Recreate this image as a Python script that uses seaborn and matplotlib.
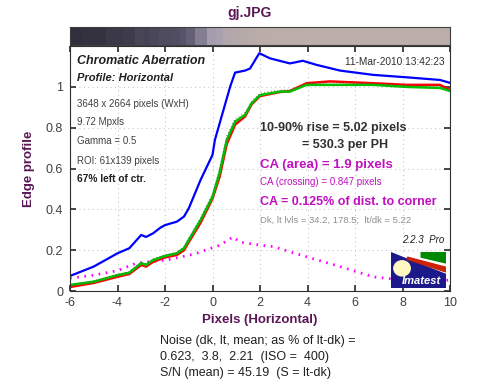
import numpy as np
import pandas as pd
import seaborn as sns
import matplotlib.pyplot as plt
import matplotlib.colors as mcolors
from matplotlib.patches import Polygon, Ellipse

# edge profiles
x_blue = [-6, -5, -4, -3.5, -3, -2.8, -2.5, -2.2, -2, -1.5, -1.2, -1, -0.5, 0, 0.1,
          0.74, 0.95, 1.37, 1.58, 1.97, 2.42, 3.26, 3.8, 4.38, 5.37, 6.76, 8.18, 9.58, 10]
blue = [0.074, 0.12, 0.185, 0.21, 0.275, 0.265, 0.283, 0.31, 0.323, 0.34, 0.365, 0.405,
        0.545, 0.667, 0.74, 1.0, 1.07, 1.08, 1.09, 1.165, 1.14, 1.115, 1.128, 1.108,
        1.08, 1.059, 1.047, 1.034, 1.02]

x_rg = [-6, -5, -4, -3.5, -3, -2.8, -2.5, -2, -1.5, -1.2, -1, -0.5, 0, 0.3, 0.6, 0.95,
        1.37, 1.65, 2, 2.84, 3.26, 3.96, 4.95, 6.76, 8.18, 9.58, 10]
green = [0.03, 0.046, 0.078, 0.09, 0.137, 0.128, 0.152, 0.172, 0.185, 0.21, 0.25, 0.348,
         0.462, 0.58, 0.74, 0.83, 0.863, 0.92, 0.96, 0.977, 0.977, 1.01, 1.01, 1.01,
         1.0, 0.995, 0.98]
red = [0.02, 0.04, 0.07, 0.084, 0.128, 0.12, 0.143, 0.165, 0.177, 0.2, 0.24, 0.335,
       0.453, 0.56, 0.72, 0.815, 0.855, 0.915, 0.955, 0.975, 0.98, 1.018, 1.027, 1.018,
       1.01, 1.01, 0.985]
mean_lum = [0.03, 0.05, 0.082, 0.095, 0.142, 0.134, 0.158, 0.178, 0.19, 0.218, 0.26, 0.36,
            0.475, 0.6, 0.76, 0.845, 0.875, 0.93, 0.97, 0.985, 0.985, 1.016, 1.02, 1.016,
            1.006, 1.003, 0.985]

x_mag = [-6, -5, -4, -3.2, -1.94, -0.82, 0.32, 0.86, 1.16, 2.0, 2.55, 3.96, 5.37, 6.76,
         7.5, 8.18, 9.7, 10]
magenta = [0.063, 0.078, 0.1, 0.137, 0.152, 0.18, 0.225, 0.265, 0.24, 0.225, 0.218,
           0.168, 0.12, 0.07, 0.06, 0.046, 0.05, 0.055]

x_ticks = [-6, -4, -2, 0, 2, 4, 6, 8, 10]
y_ticks = [0, 0.2, 0.4, 0.6, 0.8, 1]
y_ticklabels = ['0', '0.2', '0.4', '0.6', '0.8', '1']

sns.set_theme(style='white')
plt.rcParams['font.family'] = ['Liberation Sans', 'DejaVu Sans']
plt.rcParams['axes.unicode_minus'] = False

purple = '#5a1656'
mag_txt = '#c010c0'

fig = plt.figure(figsize=(5, 3.84), dpi=100)
ax = fig.add_axes([0.14, 0.242, 0.76, 0.638])
strip = fig.add_axes([0.14, 0.883, 0.76, 0.047])

# grey-level strip of the edge
cmap = mcolors.LinearSegmentedColormap.from_list(
    'edge', [(0, '#2c2a36'), (0.2, '#555166'), (0.45, '#a49cae'), (1.0, '#bcaea8')])
edges = np.concatenate([[x_rg[0]], (np.array(x_rg[:-1]) + np.array(x_rg[1:])) / 2, [x_rg[-1]]])
strip.pcolormesh(edges, [0, 1], np.array([green]), cmap=cmap, vmin=0, vmax=1)
strip.set_xlim(-6, 10)
strip.set_xticks([])
strip.set_yticks([])
for s in strip.spines.values():
    s.set_color('#404040')
    s.set_linewidth(0.8)

# profiles
sns.lineplot(x=x_mag, y=magenta, ax=ax, color='#ff00ff', linewidth=2,
             linestyle=(0, (0.6, 2.0)), estimator=None, sort=False)
sns.lineplot(x=x_blue, y=blue, ax=ax, color='#0000ff', linewidth=1.6,
             estimator=None, sort=False)
sns.lineplot(x=x_rg, y=red, ax=ax, color='#ff0000', linewidth=1.8,
             estimator=None, sort=False)
sns.lineplot(x=x_rg, y=green, ax=ax, color='#00c000', linewidth=1.8,
             estimator=None, sort=False)
sns.lineplot(x=x_rg, y=mean_lum, ax=ax, color='#505050', linewidth=0.6,
             linestyle=(0, (1, 3)), estimator=None, sort=False)

ax.set_xlim(-6, 10)
ax.set_ylim(0, 1.2)
ax.set_xticks(x_ticks)
ax.set_yticks(y_ticks)
ax.set_yticklabels(y_ticklabels)
ax.grid(True, color='#c8c8c8', linestyle=(0, (1, 3)), linewidth=0.8)
ax.tick_params(direction='in', length=4, top=True, right=True, bottom=True, left=True,
               labelsize=9, colors='#303030', labelcolor='#404040')
ax.tick_params(axis='x', pad=4)
ax.tick_params(axis='y', pad=5)
for s in ax.spines.values():
    s.set_color('#303030')
    s.set_linewidth(0.8)
ax.set_xlabel('Pixels (Horizontal)', fontsize=9.5, fontweight='bold', color=purple, labelpad=4)
ax.set_ylabel('Edge profile', fontsize=9.5, fontweight='bold', color=purple, labelpad=8)
fig.text(0.5, 0.965, 'gj.JPG', ha='center', va='center', fontsize=10,
         fontweight='bold', color=purple)

# annotations inside the axes
tr = ax.transAxes
ax.text(0.018, 0.94, 'Chromatic Aberration', transform=tr, fontsize=9,
        fontweight='bold', style='italic', color='#202020', va='center')
ax.text(0.018, 0.87, 'Profile: Horizontal', transform=tr, fontsize=8,
        fontweight='bold', style='italic', color='#202020', va='center')
for yy, s in [(0.765, '3648 x 2664 pixels (WxH)'), (0.69, '9.72 Mpxls'),
              (0.612, 'Gamma = 0.5'), (0.53, 'ROI: 61x139 pixels')]:
    ax.text(0.018, yy, s, transform=tr, fontsize=7, color='#404040', va='center')
ax.text(0.018, 0.457, '67% left of ctr.', transform=tr, fontsize=7.3,
        fontweight='bold', color='#202020', va='center')
ax.text(0.985, 0.935, '11-Mar-2010 13:42:23', transform=tr, fontsize=7.3,
        color='#303030', va='center', ha='right')

ax.text(0.5, 0.664, '10-90% rise = 5.02 pixels', transform=tr, fontsize=9,
        fontweight='bold', color='#303030', va='center')
ax.text(0.61, 0.595, '= 530.3 per PH', transform=tr, fontsize=9,
        fontweight='bold', color='#303030', va='center')
ax.text(0.5, 0.515, 'CA (area) = 1.9 pixels', transform=tr, fontsize=9.5,
        fontweight='bold', color=mag_txt, va='center')
ax.text(0.5, 0.447, 'CA (crossing) = 0.847 pixels', transform=tr, fontsize=7,
        color=mag_txt, va='center')
ax.text(0.5, 0.365, 'CA = 0.125% of dist. to corner', transform=tr, fontsize=9,
        fontweight='bold', color=mag_txt, va='center')
ax.text(0.5, 0.288, 'Dk, lt lvls = 34.2, 178.5;  lt/dk = 5.22', transform=tr, fontsize=6.8,
        color='#909090', va='center')
ax.text(0.985, 0.208, '2.2.3  Pro', transform=tr, fontsize=7, style='italic',
        color='#202020', va='center', ha='right')

# Imatest logo
logo = ax.inset_axes([0.845, 0.012, 0.144, 0.147])
logo.set_xlim(0, 1)
logo.set_ylim(0, 1)
logo.set_facecolor('#1c1a8a')
logo.add_patch(Polygon([(0.0, 1), (1, 1), (1, 0.38), (0.0, 0.98)], color='white'))
logo.add_patch(Polygon([(0.0, 0.98), (1, 0.38), (1, 0.2), (0.0, 0.96)], color='#1c1a8a'))
logo.add_patch(Polygon([(0.55, 1), (1, 1), (1, 0.7), (0.55, 0.86)], color='#008800'))
logo.add_patch(Polygon([(0.3, 0.86), (1, 0.58), (1, 0.45), (0.3, 0.8)], color='#cc2200'))
logo.add_patch(Ellipse((0.2, 0.55), 0.3, 0.42, color='#fff8c0'))
logo.text(0.55, 0.2, 'Imatest', fontsize=8, fontweight='bold', style='italic',
          color='white', ha='center', va='center')
logo.set_xticks([])
logo.set_yticks([])
for s in logo.spines.values():
    s.set_visible(False)

# noise summary below the plot
for yy, s in [(0.112, 'Noise (dk, lt, mean; as % of lt-dk) ='),
              (0.07, '0.623,  3.8,  2.21  (ISO =  400)'),
              (0.028, 'S/N (mean) = 45.19  (S = lt-dk)')]:
    fig.text(0.32, yy, s, fontsize=9, color='#202020', va='center')

fig.savefig('out.png', dpi=100, facecolor='white')
